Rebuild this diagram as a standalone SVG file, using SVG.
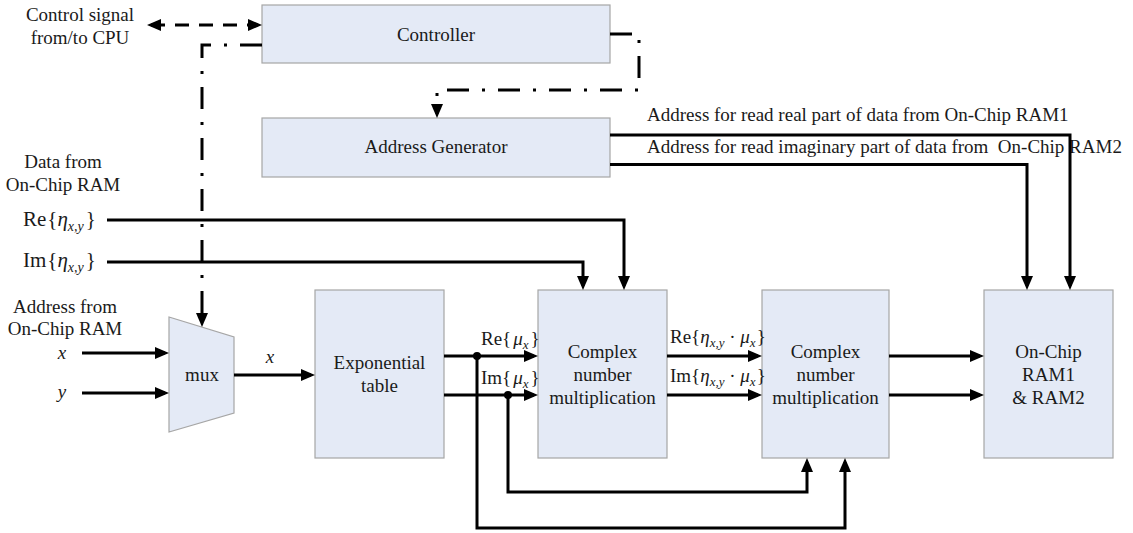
<svg xmlns="http://www.w3.org/2000/svg" width="1133" height="533" viewBox="0 0 1133 533">
<style>
text{font-family:"Liberation Serif","Times New Roman",serif;font-size:19px;fill:#1a1a1a}
.c{text-anchor:middle}
.box{fill:#e4eaf6;stroke:#a6a6a6;stroke-width:1.2}
.w{fill:none;stroke:#000;stroke-width:3}
.dash{fill:none;stroke:#000;stroke-width:3;stroke-dasharray:14 10}
.dd{fill:none;stroke:#000;stroke-width:3;stroke-dasharray:22 13 3 13}
.it{font-style:italic}
.m{font-size:21px}
</style>
<defs>
<marker id="ah" markerUnits="userSpaceOnUse" markerWidth="14" markerHeight="12" refX="10" refY="6" orient="auto-start-reverse">
<path d="M0,0 L14,6 L0,12 z" fill="#000"/>
</marker>
</defs>
<rect width="1133" height="533" fill="#fff"/>

<g id="controller">
<rect class="box" x="262" y="5" width="348" height="58"/>
<text class="c" x="436" y="41">Controller</text>
</g>
<g id="address-generator">
<rect class="box" x="262" y="118" width="348" height="59"/>
<text class="c" x="436" y="153">Address Generator</text>
</g>
<g id="mux">
<polygon class="box" points="169,317 234,337 234,413 169,432"/>
<text class="c" x="202" y="381">mux</text>
</g>
<g id="exp-table">
<rect class="box" x="315" y="290" width="129" height="168"/>
<text class="c" x="379.5" y="369">Exponential</text>
<text class="c" x="379.5" y="392">table</text>
</g>
<g id="cmul1">
<rect class="box" x="538" y="290" width="129" height="168"/>
<text class="c" x="602.5" y="358">Complex</text>
<text class="c" x="602.5" y="381">number</text>
<text class="c" x="602.5" y="404">multiplication</text>
</g>
<g id="cmul2">
<rect class="box" x="762" y="290" width="127" height="168"/>
<text class="c" x="825.5" y="358">Complex</text>
<text class="c" x="825.5" y="381">number</text>
<text class="c" x="825.5" y="404">multiplication</text>
</g>
<g id="ram">
<rect class="box" x="984" y="290" width="129" height="168"/>
<text class="c" x="1048.5" y="358">On-Chip</text>
<text class="c" x="1048.5" y="381">RAM1</text>
<text class="c" x="1048.5" y="404">&amp; RAM2</text>
</g>

<g id="labels">
<text class="c" x="80" y="21">Control signal</text>
<text class="c" x="80" y="44">from/to CPU</text>
<text class="c" x="63" y="168">Data from</text>
<text class="c" x="63" y="191">On-Chip RAM</text>
<text class="c" x="65" y="313">Address from</text>
<text class="c" x="65" y="335">On-Chip RAM</text>
<text class="c it" x="62" y="359">x</text>
<text class="c it" x="62" y="398">y</text>
<text class="c it" x="270" y="363">x</text>
<text x="647" y="121">Address for read real part of data from On-Chip RAM1</text>
<text x="647" y="153">Address for read imaginary part of data from&#160; On-Chip RAM2</text>
<text class="m" x="23" y="226">Re<tspan dx="1">{</tspan><tspan class="it">η</tspan><tspan class="it" font-size="14" dy="5">x,y</tspan><tspan dx="2" dy="-5">}</tspan></text>
<text class="m" x="23" y="267">Im<tspan dx="1">{</tspan><tspan class="it">η</tspan><tspan class="it" font-size="14" dy="5">x,y</tspan><tspan dx="2" dy="-5">}</tspan></text>
<text x="481" y="345">Re<tspan>{</tspan><tspan class="it" dx="2">μ</tspan><tspan class="it" font-size="13" dy="4">x</tspan><tspan dx="2" dy="-4">}</tspan></text>
<text x="481" y="384">Im<tspan>{</tspan><tspan class="it" dx="2">μ</tspan><tspan class="it" font-size="13" dy="4">x</tspan><tspan dx="2" dy="-4">}</tspan></text>
<text x="670" y="343">Re<tspan>{</tspan><tspan class="it">η</tspan><tspan class="it" font-size="13" dy="4">x,y</tspan><tspan dy="-4"> · </tspan><tspan class="it">μ</tspan><tspan class="it" font-size="13" dy="4">x</tspan><tspan dx="1" dy="-4">}</tspan></text>
<text x="670" y="382">Im<tspan>{</tspan><tspan class="it">η</tspan><tspan class="it" font-size="13" dy="4">x,y</tspan><tspan dy="-4"> · </tspan><tspan class="it">μ</tspan><tspan class="it" font-size="13" dy="4">x</tspan><tspan dx="1" dy="-4">}</tspan></text>
</g>

<g id="connectors">
<path class="dash" d="M151,25 H258" marker-start="url(#ah)" marker-end="url(#ah)"/>
<path class="dd" d="M262,45 H202 V323" marker-end="url(#ah)"/>
<path class="dd" d="M610,34 H639 V90 H437 V114" marker-end="url(#ah)"/>
<path class="w" d="M610,135 H1070 V286" marker-end="url(#ah)"/>
<path class="w" d="M610,164.5 H1027 V286" marker-end="url(#ah)"/>
<path class="w" d="M107,220 H624 V286" marker-end="url(#ah)"/>
<path class="w" d="M107,262 H583 V286" marker-end="url(#ah)"/>
<path class="w" d="M82,353 H165" marker-end="url(#ah)"/>
<path class="w" d="M82,393 H165" marker-end="url(#ah)"/>
<path class="w" d="M234,375 H311" marker-end="url(#ah)"/>
<path class="w" d="M444,356 H534" marker-end="url(#ah)"/>
<path class="w" d="M444,395 H534" marker-end="url(#ah)"/>
<path class="w" d="M477,356 V528 H845 V462" marker-end="url(#ah)"/>
<path class="w" d="M508,395 V492 H807 V462" marker-end="url(#ah)"/>
<circle cx="477" cy="356" r="4" fill="#000"/>
<circle cx="508" cy="395" r="4" fill="#000"/>
<path class="w" d="M667,356 H758" marker-end="url(#ah)"/>
<path class="w" d="M667,395 H758" marker-end="url(#ah)"/>
<path class="w" d="M889,356 H980" marker-end="url(#ah)"/>
<path class="w" d="M889,395 H980" marker-end="url(#ah)"/>
</g>
</svg>
